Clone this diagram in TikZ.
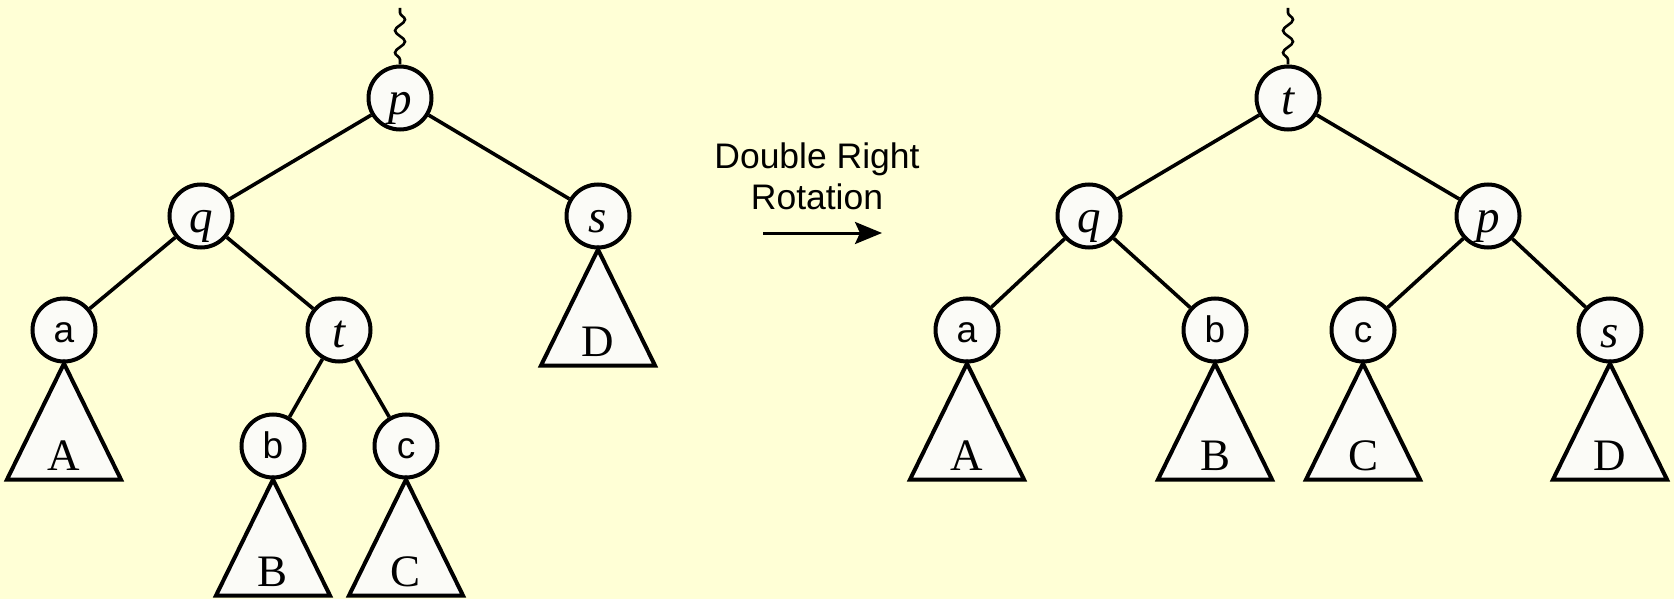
\documentclass[tikz,border=0pt]{standalone}
\usepackage{fontspec}
\setmainfont{Liberation Serif}
\setsansfont{Liberation Sans}
\usetikzlibrary{calc, arrows.meta, decorations.pathmorphing}

\begin{document}
\begin{tikzpicture}[x=1pt, y=-1pt,
    keyNode/.style={circle, draw=borderColour, fill=nodeColour, line width=4pt,
        minimum size=63pt, inner sep=0pt, font=\fontsize{47}{47}\selectfont\itshape,
        text height=34pt, text depth=0pt},
    itemNode/.style={keyNode, font=\sffamily\fontsize{37}{37}\selectfont, text height=25pt},
    branch/.style={draw=borderColour, line width=3.6pt},
    subtree/.style={draw=borderColour, fill=nodeColour, line width=4pt},
    subtreeLabel/.style={inner sep=0pt, font=\fontsize{45}{45}\selectfont},
    wiggle/.style={draw=borderColour, line width=2.6pt, decorate,
        decoration={snake, amplitude=5pt, segment length=22pt, pre length=5pt, post length=1pt}},
    rotLabel/.style={inner sep=0pt, align=center, font=\sffamily\fontsize{35.5}{41}\selectfont}]
    % Define colours
    \definecolor{borderColour}{HTML}{000000}
    \definecolor{backColour}{HTML}{FFFFD6}
    \definecolor{nodeColour}{HTML}{FBFBF7}

    % Define subtree size
    \def\triHalf{57}
    \def\triHeight{116}

    % Draw background
    \fill[backColour] (0,0) rectangle (1674,599);
    \useasboundingbox (0,0) rectangle (1674,599);

    % Left tree, before the rotation
    \node[keyNode] (p1) at (400,98) {p};
    \node[keyNode] (q1) at (201,216) {q};
    \node[keyNode] (s1) at (598,216) {s};
    \node[itemNode] (a1) at (64,330) {a};
    \node[keyNode] (t1) at (339,330) {t};
    \node[itemNode] (b1) at (273,446) {b};
    \node[itemNode] (c1) at (406,446) {c};

    % Right tree, after the rotation
    \node[keyNode] (t2) at (1288,98) {t};
    \node[keyNode] (q2) at (1089,216) {q};
    \node[keyNode] (p2) at (1488,216) {p};
    \node[itemNode] (a2) at (967,330) {a};
    \node[itemNode] (b2) at (1215,330) {b};
    \node[itemNode] (c2) at (1363,330) {c};
    \node[keyNode] (s2) at (1610,330) {s};

    % Draw the links to the rest of the tree
    \coordinate (rootLeft) at (400,8);
    \coordinate (rootRight) at (1288,8);
    \draw[wiggle] (p1.north) -- (rootLeft);
    \draw[wiggle] (t2.north) -- (rootRight);

    % Draw branches
    \foreach \u/\v in {p1/q1, p1/s1, q1/a1, q1/t1, t1/b1, t1/c1,
                       t2/q2, t2/p2, q2/a2, q2/b2, p2/c2, p2/s2}
        \draw[branch] (\u) -- (\v);

    % Draw subtrees below the leaves
    \foreach \n/\l in {a1/A, s1/D, b1/B, c1/C, a2/A, b2/B, c2/C, s2/D} {
        \filldraw[subtree] (\n.south) -- ++(-\triHalf,\triHeight) -- ++(2*\triHalf,0) -- cycle;
        \node[subtreeLabel, anchor=base] (sub\n) at ($(\n.south)+(0,\triHeight-9)$) {\l};
    }

    % Label the rotation
    \node[rotLabel, anchor=south] (rotText) at (817,210) {Double Right\\Rotation};
    \coordinate (arrowStart) at (763,233);
    \coordinate (arrowEnd) at (882,233);
    \draw[line width=3pt, -{Stealth[length=27pt, width=22pt, inset=5pt]}] (arrowStart) -- (arrowEnd);

\end{tikzpicture}
\end{document}
